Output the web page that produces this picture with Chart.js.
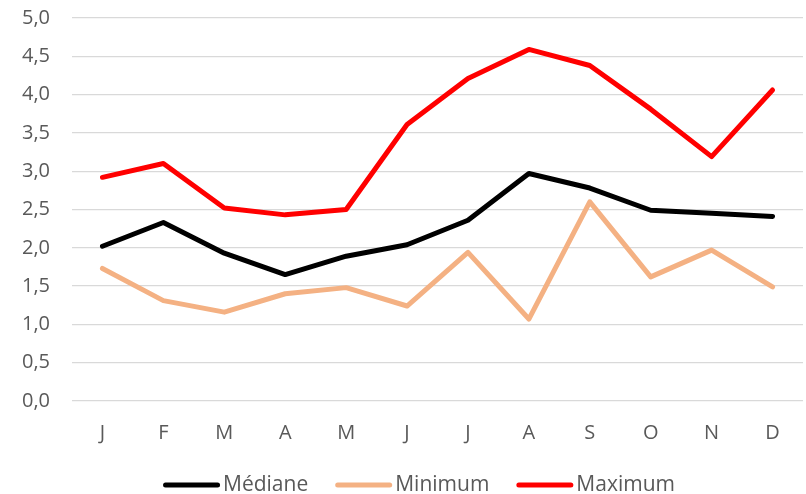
<!DOCTYPE html>
<html>
<head>
<meta charset="utf-8">
<script src="https://cdn.jsdelivr.net/npm/chart.js@4/dist/chart.umd.min.js"></script>
<style>
  html, body { margin: 0; padding: 0; background: #fff; }
  #wrap { width: 806px; height: 494px; }
</style>
</head>
<body>
<div id="wrap"><canvas id="chart" width="806" height="494"></canvas></div>
<script>
// mois
const labels = ['J', 'F', 'M', 'A', 'M', 'J', 'J', 'A', 'S', 'O', 'N', 'D'];

const mediane = [2.02, 2.33, 1.93, 1.65, 1.89, 2.04, 2.36, 2.97, 2.78, 2.49, 2.45, 2.41];
const minimum = [1.73, 1.31, 1.16, 1.40, 1.48, 1.24, 1.94, 1.07, 2.60, 1.62, 1.97, 1.49];
const maximum = [2.92, 3.10, 2.52, 2.43, 2.50, 3.61, 4.21, 4.59, 4.38, 3.81, 3.19, 4.06];

const yTicks = [0, 0.5, 1, 1.5, 2, 2.5, 3, 3.5, 4, 4.5, 5];

const FONT = '"Open Sans", sans-serif';

function serie(label, data, color) {
  return {
    label: label,
    data: data,
    borderColor: color,
    backgroundColor: color,
    borderWidth: 5,
    borderCapStyle: 'round',
    borderJoinStyle: 'round',
    tension: 0,
    pointRadius: 0,
    fill: false
  };
}

// légende dessinée à la main (façon Excel : trait + texte)
const legendeBas = {
  id: 'legendeBas',
  afterDraw(chart) {
    const c = chart.ctx;
    const items = chart.data.datasets;
    const lineW = 57, gap = 3, space = 27, y = 485;
    c.save();
    c.font = '21px ' + FONT;
    c.textBaseline = 'middle';
    c.textAlign = 'left';
    const widths = items.map(d => lineW + gap + c.measureText(d.label).width);
    const total = widths.reduce((a, b) => a + b, 0) + space * (items.length - 1);
    let x = 419 - total / 2;
    items.forEach((d, i) => {
      c.strokeStyle = d.borderColor;
      c.lineWidth = 5;
      c.lineCap = 'round';
      c.beginPath();
      c.moveTo(x + 2.5, y);
      c.lineTo(x + lineW - 2.5, y);
      c.stroke();
      c.fillStyle = '#595959';
      c.fillText(d.label, x + lineW + gap, y);
      x += widths[i] + space;
    });
    c.restore();
  }
};

const ctx = document.getElementById('chart').getContext('2d');

new Chart(ctx, {
  type: 'line',
  data: {
    labels: labels,
    datasets: [
      serie('Médiane', mediane, '#000000'),
      serie('Minimum', minimum, '#F4B183'),
      serie('Maximum', maximum, '#FF0000')
    ]
  },
  plugins: [legendeBas],
  options: {
    responsive: false,
    animation: false,
    layout: { padding: { top: 18, right: 3, left: 4, bottom: 43 } },
    plugins: {
      tooltip: { enabled: false },
      legend: { display: false }
    },
    scales: {
      y: {
        min: 0,
        max: 5,
        afterBuildTicks: (axis) => { axis.ticks = yTicks.map(v => ({ value: v })); },
        afterFit: (axis) => {
          axis.width = 68;
          axis.paddingTop = 0;
          axis.paddingBottom = 0;
        },
        border: { display: false },
        grid: { color: '#D9D9D9', lineWidth: 1.3, drawTicks: false, tickLength: 0 },
        ticks: {
          padding: 22,
          color: '#595959',
          font: { family: FONT, size: 20 },
          callback: (v) => v.toFixed(1).replace('.', ',')
        }
      },
      x: {
        offset: true,
        afterFit: (axis) => {
          axis.height = 50;
          axis.paddingLeft = 0;
          axis.paddingRight = 0;
        },
        border: { display: false },
        grid: { display: false, drawTicks: false, tickLength: 0 },
        ticks: {
          padding: 20,
          color: '#595959',
          font: { family: FONT, size: 20 }
        }
      }
    }
  }
});
</script>
</body>
</html>
